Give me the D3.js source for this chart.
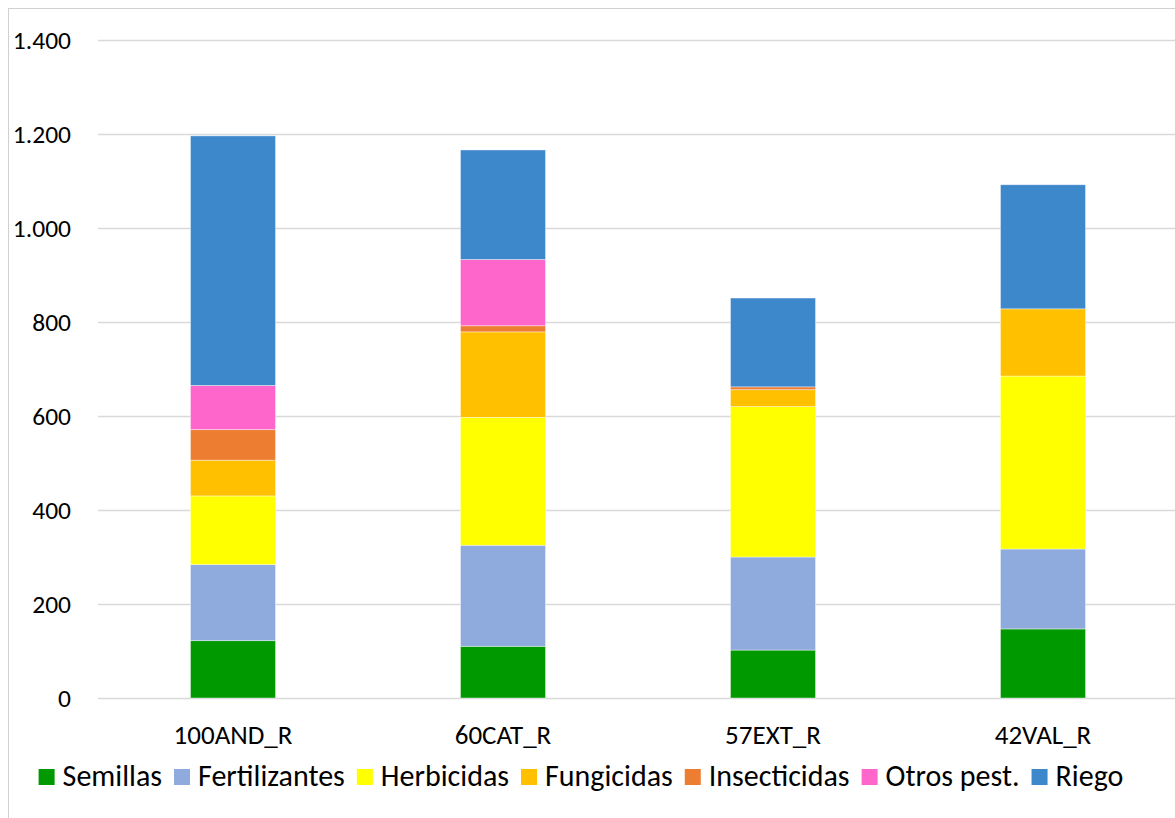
<!DOCTYPE html>
<html>
<head>
<meta charset="utf-8">
<script src="https://cdn.jsdelivr.net/npm/d3@7"></script>
<style>
  html, body { margin: 0; padding: 0; background: #fff; }
  svg { display: block; }
  text { font-family: Carlito, Lato, "Liberation Sans", sans-serif; fill: #000; }
</style>
</head>
<body>
<svg id="chart" width="1175" height="818"></svg>
<script>
const categories = ["100AND_R", "60CAT_R", "57EXT_R", "42VAL_R"];
const seriesNames = ["Semillas", "Fertilizantes", "Herbicidas", "Fungicidas", "Insecticidas", "Otros pest.", "Riego"];
const seriesColors = ["#009900", "#8faadc", "#ffff00", "#ffc000", "#ed7d31", "#ff66cc", "#3d87cb"];
const semillas      = [122, 110, 102, 147];
const fertilizantes = [162, 215, 198, 170];
const herbicidas    = [146, 272, 320, 368];
const fungicidas    = [76, 182, 36, 143];
const insecticidas  = [65, 13, 6, 0];
const otrosPest     = [94, 141, 0, 0];
const riego         = [531, 233, 189, 264];
const yTicks = [0, 200, 400, 600, 800, 1000, 1200, 1400];

const seriesValues = [semillas, fertilizantes, herbicidas, fungicidas, insecticidas, otrosPest, riego];
const table = categories.map((c, i) => {
  const row = { cat: c };
  seriesNames.forEach((s, j) => row[s] = seriesValues[j][i]);
  return row;
});

const svg = d3.select("#chart");
const plotLeft = 98, plotRight = 1178, plotTop = 40, plotBottom = 698;

// chart border
svg.append("rect")
  .attr("x", 8.5).attr("y", 8.5)
  .attr("width", 1200).attr("height", 900)
  .attr("fill", "#fff").attr("stroke", "#d0d0d0").attr("stroke-width", 1);

const x = d3.scaleBand().domain(categories).range([plotLeft, plotRight]).padding(0);
const y = d3.scaleLinear().domain([0, 1400]).range([plotBottom, plotTop]);
const barW = x.bandwidth() * 0.315;

const locale = d3.formatLocale({ decimal: ",", thousands: ".", grouping: [3], currency: ["", "€"] });
const fmt = locale.format(",d");

// gridlines
const yAxis = d3.axisLeft(y).tickValues(yTicks).tickFormat(fmt)
  .tickSize(-(plotRight - plotLeft)).tickPadding(27);
const gy = svg.append("g").attr("transform", `translate(${plotLeft},0)`).call(yAxis);
gy.select(".domain").remove();
gy.selectAll(".tick line").attr("stroke", "#d9d9d9").attr("stroke-width", 1.3);
gy.selectAll(".tick text").attr("font-size", 25.5).attr("fill", "#000")
  .style("font-family", "Carlito, Lato, sans-serif");

// stacked bars
const stack = d3.stack().keys(seriesNames);
const stacked = stack(table);
const color = d3.scaleOrdinal().domain(seriesNames).range(seriesColors);

svg.append("g").selectAll("g")
  .data(stacked).join("g")
  .attr("fill", d => color(d.key))
  .selectAll("rect")
  .data(d => d.filter(v => v[1] - v[0] > 0).map(v => ({ v, cat: v.data.cat })))
  .join("rect")
  .attr("x", d => x(d.cat) + (x.bandwidth() - barW) / 2)
  .attr("y", d => y(d.v[1]))
  .attr("width", barW)
  .attr("height", d => y(d.v[0]) - y(d.v[1]))
  .attr("stroke", "rgba(255,255,255,0.5)")
  .attr("stroke-width", 0.8);

// category axis labels
const xAxis = d3.axisBottom(x).tickSize(0).tickPadding(27);
const gx = svg.append("g").attr("transform", `translate(0,${plotBottom})`).call(xAxis);
gx.select(".domain").remove();
gx.selectAll(".tick text").attr("font-size", 27).attr("fill", "#000")
  .style("font-family", "Carlito, Lato, sans-serif");

// legend
const legend = svg.append("g");
let lx = 0;
seriesNames.forEach((s, i) => {
  const g = legend.append("g");
  g.append("rect").attr("x", lx).attr("y", 769).attr("width", 16).attr("height", 16)
    .attr("fill", seriesColors[i]);
  const t = g.append("text").attr("x", lx + 24).attr("y", 786)
    .attr("font-size", 30).text(s);
  const w = t.node().getComputedTextLength();
  lx += 24 + w + (i < seriesNames.length - 1 ? 12 : 0);
});
legend.attr("transform", `translate(${581 - lx / 2},0)`);
</script>
</body>
</html>
